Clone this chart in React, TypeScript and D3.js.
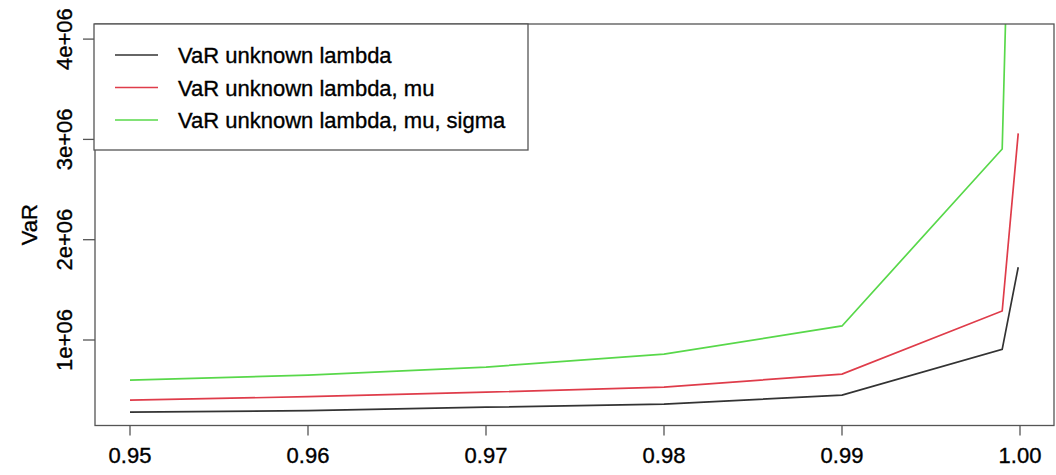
import React from "react";
import { scaleLinear, line } from "d3";

const probs = [0.95, 0.96, 0.97, 0.98, 0.99, 0.999, 0.9999];
const varLambda = [280000, 295000, 330000, 360000, 450000, 907000, 1725000];
const varLambdaMu = [400000, 435000, 480000, 530000, 660000, 1289000, 3060000];
const varLambdaMuSigma = [600000, 650000, 730000, 860000, 1140000, 2904000, 9000000];
const seriesNames = [
  "VaR unknown lambda",
  "VaR unknown lambda, mu",
  "VaR unknown lambda, mu, sigma",
];
const seriesColors = ["#333333", "#df3c4a", "#58d84a"];
const xTicks = [0.95, 0.96, 0.97, 0.98, 0.99, 1.0];
const yTicks = [1e6, 2e6, 3e6, 4e6];
const yTickLabels = ["1e+06", "2e+06", "3e+06", "4e+06"];

export default function App() {
  const width = 1056;
  const height = 475;
  const plot = { left: 95, right: 1054, top: 24, bottom: 425.5 };

  const xScale = scaleLinear().domain([0.95, 1.0]).range([130, 1020]);
  const yScale = scaleLinear().domain([0, 1e6]).range([440.3, 340]);

  const series = [varLambda, varLambdaMu, varLambdaMuSigma];
  const lineGen = line<number>()
    .x((_, i) => xScale(probs[i]))
    .y((d) => yScale(d));

  const font = "'Liberation Sans', Arial, sans-serif";
  const fs = 22;
  // heavier text, like the blurred original
  const textStyle = { stroke: "#000", strokeWidth: 0.35 };

  return (
    <svg
      width={width}
      height={height}
      style={{ position: "absolute", left: 0, top: 0, background: "#fff" }}
      fontFamily={font}
    >
      <defs>
        <clipPath id="plotClip">
          <rect
            x={plot.left}
            y={plot.top}
            width={plot.right - plot.left}
            height={plot.bottom - plot.top}
          />
        </clipPath>
      </defs>

      {/* lines */}
      <g clipPath="url(#plotClip)">
        {series.map((s, i) => (
          <path
            key={i}
            d={lineGen(s) || ""}
            fill="none"
            stroke={seriesColors[i]}
            strokeWidth={1.7}
          />
        ))}
      </g>

      {/* box */}
      <rect
        x={plot.left}
        y={plot.top}
        width={plot.right - plot.left}
        height={plot.bottom - plot.top}
        fill="none"
        stroke="#555"
        strokeWidth={1.3}
      />

      {/* x axis */}
      {xTicks.map((t, i) => (
        <g key={i} transform={`translate(${xScale(t)},0)`}>
          <line y1={plot.bottom} y2={plot.bottom + 10} stroke="#555" strokeWidth={1.3} />
          <text y={463} textAnchor="middle" fontSize={fs} fill="#000" style={textStyle}>
            {t.toFixed(2)}
          </text>
        </g>
      ))}

      {/* y axis */}
      {yTicks.map((t, i) => (
        <g key={i}>
          <line
            x1={plot.left}
            x2={plot.left - 12}
            y1={yScale(t)}
            y2={yScale(t)}
            stroke="#555"
            strokeWidth={1.3}
          />
          <text
            transform={`translate(72,${yScale(t)}) rotate(-90)`}
            textAnchor="middle"
            fontSize={fs}
            fill="#000"
            style={textStyle}
          >
            {yTickLabels[i]}
          </text>
        </g>
      ))}
      <text
        transform={`translate(37,${(plot.top + plot.bottom) / 2}) rotate(-90)`}
        textAnchor="middle"
        fontSize={fs}
        fill="#000"
        style={textStyle}
      >
        VaR
      </text>

      {/* legend */}
      <rect x={94} y={24} width={434} height={126} fill="#fff" stroke="#555" strokeWidth={1.3} />
      {seriesNames.map((name, i) => {
        const y = 55 + i * 32.5;
        return (
          <g key={i}>
            <line x1={115} x2={158} y1={y} y2={y} stroke={seriesColors[i]} strokeWidth={1.7} />
            <text x={178} y={y + 8} fontSize={fs} fill="#000" style={textStyle}>
              {name}
            </text>
          </g>
        );
      })}
    </svg>
  );
}
